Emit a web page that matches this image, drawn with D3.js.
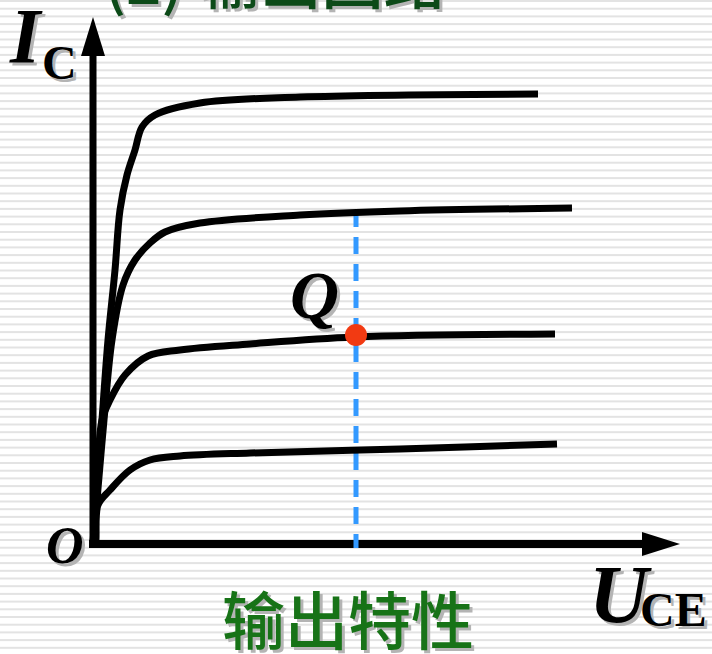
<!DOCTYPE html>
<html lang="zh-CN">
<head>
  <meta charset="UTF-8"/>
  <title>输出特性</title>
  <style>
    body { margin: 0; background: #fff; }
    svg { display: block; }
    .serif { font-family: "Liberation Serif", "Times New Roman", serif; font-weight: bold; }
    .cjk { font-family: "Noto Sans CJK SC", sans-serif; font-weight: 500; }
  </style>
</head>
<body>
<script src="https://cdn.jsdelivr.net/npm/d3@7"></script>
<script>

// output characteristic curves, U_CE (V) vs I_C (mA), one array per base current
var curveTop = [[0.08,0.54],[0.18,1.24],[0.30,2.04],[0.44,2.74],[0.54,3.34],[0.68,3.69],[0.84,3.94],[0.98,4.17],[1.24,4.29],[2.14,4.41],[4.14,4.47],[8.90,4.50]];
var curveMid = [[0.08,0.44],[0.22,1.24],[0.38,2.04],[0.60,2.59],[0.84,2.84],[1.14,3.01],[1.44,3.12],[2.14,3.21],[4.14,3.29],[6.14,3.33],[9.58,3.36]];
var curveQ   = [[0.08,0.64],[0.18,1.24],[0.34,1.44],[0.64,1.69],[1.10,1.88],[1.74,1.94],[3.14,2.00],[5.24,2.07],[9.24,2.10]];
var curveLow = [[0.04,0.00],[0.10,0.39],[0.34,0.54],[0.74,0.74],[1.14,0.84],[1.74,0.88],[3.14,0.91],[6.14,0.95],[9.28,1.00]];
var curves = [curveTop, curveMid, curveQ, curveLow];

// operating point Q and its vertical dashed line
var qPoint = [5.26, 2.09];
var qLine  = [[5.26, 3.34], [5.26, -0.04]];

var titleText = "(2) 输出回路";
var captionText = "输出特性";

var W = 712, H = 654;

var svg = d3.select("body").append("svg")
    .attr("width", W)
    .attr("height", H);

// striped background
svg.append("rect").attr("width", W).attr("height", H).attr("fill", "#ffffff");
svg.append("g").selectAll("rect")
    .data(d3.range(0, H, 7.7))
  .enter().append("rect")
    .attr("x", 0).attr("y", function(d) { return d; })
    .attr("width", W).attr("height", 2)
    .attr("fill", "#e3e3e3");

// scales
var x = d3.scaleLinear().domain([0, 12]).range([93, 693]);
var y = d3.scaleLinear().domain([0, 5]).range([544, 44]);

// helper: text with grey drop shadow
function shadowText(g, tx, ty, str, cls, size, style, fill) {
  g.append("text").attr("x", tx + 3).attr("y", ty + 3)
    .attr("class", cls).attr("font-size", size).attr("font-style", style)
    .attr("fill", "#b4b4b4").text(str);
  g.append("text").attr("x", tx).attr("y", ty)
    .attr("class", cls).attr("font-size", size).attr("font-style", style)
    .attr("fill", fill).text(str);
}

// title (cut off at the top)
shadowText(svg, 104, 4, titleText, "cjk", 62, "normal", "#0c4a18");

// axes
var axes = svg.append("g");
axes.append("line")
    .attr("x1", x(0)).attr("y1", y(0) + 4)
    .attr("x2", x(0)).attr("y2", 56)
    .attr("stroke", "#000").attr("stroke-width", 7);
axes.append("path")
    .attr("d", "M" + (x(0) - 12) + ",56L" + x(0) + ",17L" + (x(0) + 12) + ",56Z")
    .attr("fill", "#000");
axes.append("line")
    .attr("x1", x(0) - 4).attr("y1", y(0))
    .attr("x2", 643).attr("y2", y(0))
    .attr("stroke", "#000").attr("stroke-width", 8);
axes.append("path")
    .attr("d", "M642," + (y(0) - 12) + "L680," + y(0) + "L642," + (y(0) + 12) + "Z")
    .attr("fill", "#000");

// dashed line through Q
svg.append("path")
    .datum(qLine)
    .attr("d", d3.line().x(function(d) { return x(d[0]); }).y(function(d) { return y(d[1]); }))
    .attr("stroke", "#3399ff").attr("stroke-width", 5)
    .attr("stroke-dasharray", "17,10").attr("fill", "none");

// characteristic curves
var line = d3.line()
    .x(function(d) { return x(d[0]); })
    .y(function(d) { return y(d[1]); })
    .curve(d3.curveCatmullRom.alpha(0.5));

svg.append("g").selectAll("path")
    .data(curves)
  .enter().append("path")
    .attr("d", function(d) { return line([[0, 0]].concat(d)); })
    .attr("fill", "none")
    .attr("stroke", "#000")
    .attr("stroke-width", 7)
    .attr("stroke-linejoin", "round");

// Q point
svg.append("circle")
    .attr("cx", x(qPoint[0])).attr("cy", y(qPoint[1]))
    .attr("r", 11).attr("fill", "#f23a12");

// labels
var labels = svg.append("g");
shadowText(labels, 290, 318, "Q", "serif", 68, "italic", "#000");
shadowText(labels, 10, 62, "I", "serif", 78, "italic", "#000");
shadowText(labels, 42, 79, "C", "serif", 48, "normal", "#000");
shadowText(labels, 46, 563, "O", "serif", 52, "italic", "#000");
shadowText(labels, 589, 622, "U", "serif", 82, "italic", "#000");
shadowText(labels, 640, 626, "CE", "serif", 48, "normal", "#000");

// caption
shadowText(svg, 222, 644, captionText, "cjk", 63, "normal", "#177317");

</script>
</body>
</html>
